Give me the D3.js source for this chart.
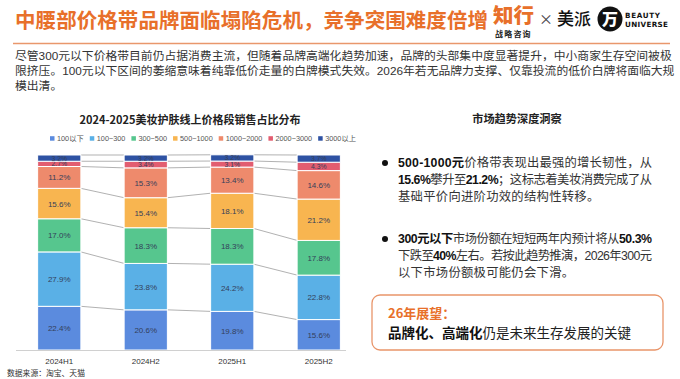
<!DOCTYPE html>
<html><head><meta charset="utf-8">
<script src="https://cdn.jsdelivr.net/npm/d3@7"></script>
<style>
html,body{margin:0;padding:0;background:#fff;}
svg{display:block;font-family:"Liberation Sans","Noto Sans CJK SC",sans-serif;}
</style></head>
<body>
<svg id="c" width="680" height="379"></svg>
<script>
// ---------- data ----------
const periods = ["2024H1","2024H2","2025H1","2025H2"];
const seriesNames = ["100以下","100~300","300~500","500~1000","1000~2000","2000~3000","3000以上"];
const s100 = [22.4,20.6,19.8,15.6];
const s300 = [27.9,23.8,24.2,22.8];
const s500 = [17.0,18.3,18.3,17.8];
const s1000 = [15.6,15.4,18.1,21.2];
const s2000 = [11.2,15.3,13.4,14.6];
const s3000 = [2.7,3.4,3.1,4.3];
const sAbove = [3.2,3.2,3.2,3.7];
const seriesValues = [s100,s300,s500,s1000,s2000,s3000,sAbove];
const colors = ["#5B8BDE","#5AB0E6","#56C68E","#F8B550","#EE8A6C","#E25D70","#2E52A3"];

const svg = d3.select("#c");
const CJK = '"Noto Sans CJK SC","Liberation Sans",sans-serif';

// ---------- header ----------
svg.append("text").attr("x",15).attr("y",28)
  .attr("font-family",CJK).attr("font-weight",700).attr("font-size",20.5)
  .attr("fill","#E8702A").attr("textLength",473).attr("lengthAdjust","spacing")
  .text("中腰部价格带品牌面临塌陷危机，竞争突围难度倍增");
svg.append("text").attr("x",493).attr("y",23)
  .attr("font-family",CJK).attr("font-weight",900).attr("font-size",20.5)
  .attr("fill","#E8702A").text("知行");
svg.append("text").attr("x",495).attr("y",37)
  .attr("font-family",CJK).attr("font-weight",700).attr("font-size",8)
  .attr("letter-spacing",1.2).attr("fill","#222").text("战略咨询");
svg.append("text").attr("x",539).attr("y",24)
  .attr("font-family",CJK).attr("font-size",14).attr("fill","#444").text("×");
svg.append("text").attr("x",557).attr("y",25)
  .attr("font-family",CJK).attr("font-size",17).attr("font-weight",500).attr("fill","#111").text("美派");
svg.append("circle").attr("cx",610).attr("cy",19).attr("r",12.5).attr("fill","#111");
svg.append("text").attr("x",610).attr("y",25).attr("text-anchor","middle")
  .attr("font-family",CJK).attr("font-weight",900).attr("font-size",16).attr("fill","#fff").text("万");
svg.append("text").attr("x",625).attr("y",18)
  .attr("font-family","DejaVu Sans").attr("font-weight",700).attr("font-size",7.2)
  .attr("textLength",35).attr("lengthAdjust","spacing").attr("fill","#111").text("BEAUTY");
svg.append("text").attr("x",625).attr("y",27)
  .attr("font-family","DejaVu Sans").attr("font-weight",700).attr("font-size",7.2)
  .attr("textLength",43).attr("lengthAdjust","spacing").attr("fill","#111").text("UNIVERSE");
svg.append("line").attr("x1",13).attr("x2",670).attr("y1",43.5).attr("y2",43.5)
  .attr("stroke","#E9976C").attr("stroke-width",1.5);

const para = [
 "尽管300元以下价格带目前仍占据消费主流，但随着品牌高端化趋势加速，品牌的头部集中度显著提升，中小商家生存空间被极",
 "限挤压。100元以下区间的萎缩意味着纯靠低价走量的白牌模式失效。2026年若无品牌力支撑、仅靠投流的低价白牌将面临大规",
 "模出清。"
];
para.forEach((t,i)=>{
  svg.append("text").attr("x",15).attr("y",59.5+i*15.3)
    .attr("font-size",11.8).attr("fill","#333").text(t);
});

// ---------- chart ----------
const x = d3.scaleBand().domain(periods).range([16,362]).paddingInner(0.5).paddingOuter(0.25);
const y = d3.scaleLinear().domain([0,100]).range([350,155]);
const bw = x.bandwidth();

svg.append("text").attr("x",190).attr("y",124).attr("text-anchor","middle")
  .attr("font-family",CJK).attr("font-weight",700).attr("font-size",11)
  .attr("fill","#222").text("2024-2025美妆护肤线上价格段销售占比分布");

// legend
const lg = svg.append("g").attr("font-size",7.3).attr("fill","#555");
let lx = 50;
seriesNames.forEach((n,i)=>{
  lg.append("rect").attr("x",lx).attr("y",136.2).attr("width",4.5).attr("height",4.5).attr("fill",colors[i]);
  const t = lg.append("text").attr("x",lx+7).attr("y",141.3).text(n);
  lx += 7 + t.node().getComputedTextLength() + 6;
});

// stack
const rows = periods.map((p,j)=>{
  const o = {period:p};
  seriesNames.forEach((n,i)=>o[n]=seriesValues[i][j]);
  return o;
});
const stack = d3.stack().keys(seriesNames)(rows);

// connector lines
const conn = svg.append("g").attr("stroke","#A8A8A8").attr("stroke-width",0.9);
stack.forEach(layer=>{
  for(let j=0;j<periods.length-1;j++){
    conn.append("line")
      .attr("x1",x(periods[j])+bw).attr("x2",x(periods[j+1]))
      .attr("y1",y(layer[j][1])).attr("y2",y(layer[j+1][1]));
  }
});

stack.forEach((layer,i)=>{
  const g = svg.append("g");
  g.selectAll("rect").data(layer).join("rect")
    .attr("x",d=>x(d.data.period)).attr("width",bw)
    .attr("y",d=>y(d[1])).attr("height",d=>y(d[0])-y(d[1]))
    .attr("fill",colors[i]).attr("stroke","#fff").attr("stroke-width",1);
  g.selectAll("text").data(layer).join("text")
    .attr("x",d=>x(d.data.period)+bw/2)
    .attr("y",d=>{
      const small = (d[1]-d[0]) < 5;
      return (y(d[0])+y(d[1]))/2 + (small ? 2.5 : 3);
    })
    .attr("text-anchor","middle")
    .attr("font-size",d=>(d[1]-d[0]) < 5 ? 6.8 : 8)
    .attr("fill","#34405a")
    .text(d=>(d[1]-d[0]).toFixed(1)+"%");
});

// axis
const ax = svg.append("g").attr("transform","translate(0,350.5)")
  .call(d3.axisBottom(x).tickSize(0).tickPadding(8));
ax.select(".domain").attr("stroke","#D0D0D0").attr("d","M16,0H346");
ax.selectAll("text").attr("font-size",8).attr("fill","#333").attr("font-family","Liberation Sans");

svg.append("text").attr("x",7).attr("y",376).attr("font-size",7.8).attr("fill","#333")
  .text("数据来源：淘宝、天猫");

// ---------- right panel ----------
svg.append("text").attr("x",517).attr("y",123).attr("text-anchor","middle")
  .attr("font-family",CJK).attr("font-weight",700).attr("font-size",11.2)
  .attr("fill","#222").text("市场趋势深度洞察");

const bullets = [
 {y:167, lines:[
   [["500-1000元",1],["价格带表现出最强的增长韧性，从",0]],
   [["15.6%",1],["攀升至",0],["21.2%",1],["；这标志着美妆消费完成了从",0]],
   [["基础平价向进阶功效的结构性转移。",0]]
 ]},
 {y:243, lines:[
   [["300元以下",1],["市场份额在短短两年内预计将从",0],["50.3%",1]],
   [["下跌至",0],["40%",1],["左右。若按此趋势推演，2026年300元",0]],
   [["以下市场份额极可能仍会下滑。",0]]
 ]}
];
bullets.forEach(b=>{
  svg.append("circle").attr("cx",385).attr("cy",b.y-4).attr("r",3).attr("fill","#111");
  b.lines.forEach((ln,k)=>{
    const t = svg.append("text").attr("x",398).attr("y",b.y+k*17)
      .attr("font-size",12.3).attr("fill","#333");
    if(k<2) t.attr("textLength",254).attr("lengthAdjust","spacing");
    else t.attr("letter-spacing",0.3);
    ln.forEach(([s,bold])=>{
      t.append("tspan").attr("font-weight",bold?700:400).attr("fill",bold?"#111":"#333").text(s);
    });
  });
});

svg.append("rect").attr("x",372).attr("y",295).attr("width",291).attr("height",55).attr("rx",8)
  .attr("fill","#fff").attr("stroke","#E9956A").attr("stroke-width",1.3);
svg.append("text").attr("x",388).attr("y",318).attr("font-family",CJK)
  .attr("font-weight",700).attr("font-size",13).attr("fill","#E8702A").text("26年展望：");
const t2 = svg.append("text").attr("x",388).attr("y",338).attr("font-family",CJK)
  .attr("font-size",13.5).attr("fill","#222");
t2.append("tspan").attr("font-weight",700).attr("fill","#111").text("品牌化、高端化");
t2.append("tspan").text("仍是未来生存发展的关键");
</script>
</body></html>
